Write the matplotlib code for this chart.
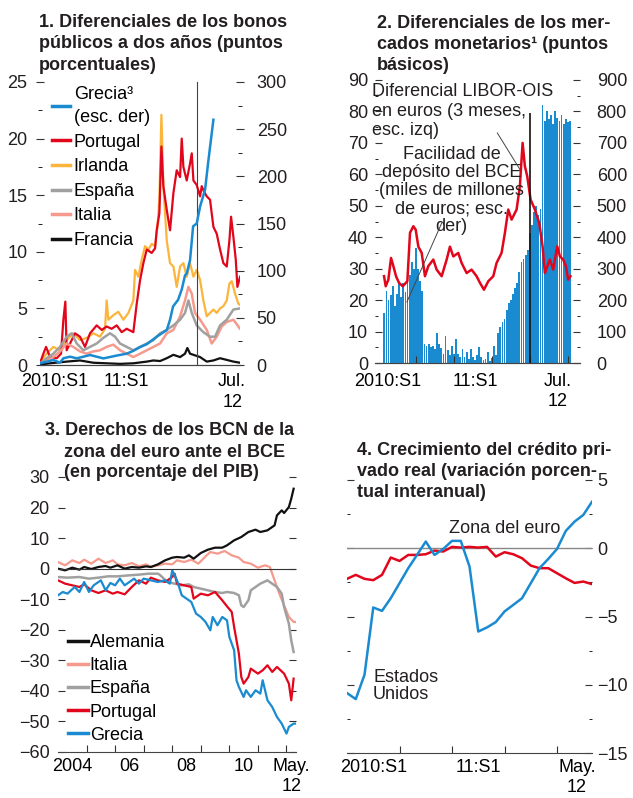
import numpy as np
import matplotlib
matplotlib.use('Agg')
import matplotlib.pyplot as plt
from matplotlib.lines import Line2D
from matplotlib.ticker import MultipleLocator

plt.rcParams['font.family'] = ['Liberation Sans', 'DejaVu Sans']
plt.rcParams['font.size'] = 13

RED = '#E2061C'
BLUE = '#1A8BD0'
ORANGE = '#FBB53C'
GREY = '#A0A0A0'
SALMON = '#F59A8C'
BLACK = '#111111'
INK = '#231F20'

# ---- panel 1: two-year bond spreads (time in years after Jan 2010)
pt_t = [0.0, .043, .077, .128, .213, .268, .298, .323, .340, .383, .446, .510, .574, .638, .723, .787,
        .850, .914, .978, 1.042, 1.105, 1.190, 1.233, 1.276, 1.318, 1.361, 1.424, 1.467, 1.488, 1.522,
        1.548, 1.573, 1.616, 1.658, 1.701, 1.743, 1.786, 1.807, 1.828, 1.871, 1.913, 1.935, 1.956, 1.998,
        2.041, 2.062, 2.092, 2.126, 2.168, 2.211, 2.253, 2.296, 2.338, 2.381, 2.415, 2.436, 2.466, 2.496,
        2.517, 2.551]
pt_v = [0.15, 1.0, 1.6, 0.7, 0.6, 1.0, 4.0, 5.6, 1.3, 1.9, 2.8, 2.5, 1.6, 2.8, 3.5, 3.1, 3.4, 3.2, 3.5,
        2.9, 3.2, 2.9, 5.4, 7.5, 9.0, 10.2, 9.9, 10.3, 11.9, 13.4, 19.3, 15.8, 13.7, 11.9, 15.2, 17.2,
        16.6, 20.0, 17.5, 16.3, 17.8, 18.7, 16.3, 15.9, 14.9, 15.8, 15.3, 14.9, 14.6, 12.2, 11.6, 10.2,
        9.0, 8.7, 11.0, 13.1, 11.3, 9.3, 6.9, 7.8]
ie_t = [0.0, .085, .170, .255, .340, .425, .510, .595, .680, .765, .829, .850, .872, .935, .999, 1.063,
        1.127, 1.190, 1.212, 1.254, 1.297, 1.339, 1.382, 1.424, 1.467, 1.497, 1.522, 1.548, 1.573, 1.616,
        1.658, 1.701, 1.743, 1.786, 1.828, 1.871, 1.913, 1.956, 1.998, 2.041, 2.083, 2.126, 2.168, 2.211,
        2.253, 2.296, 2.338, 2.381, 2.415, 2.445, 2.487, 2.530, 2.551]
ie_v = [0.3, 1.0, 1.6, 1.3, 2.2, 2.8, 2.2, 2.4, 2.8, 2.5, 3.2, 5.7, 4.0, 4.4, 4.7, 4.0, 4.6, 5.7, 8.4,
        7.8, 9.3, 10.5, 10.2, 10.7, 10.5, 12.2, 14.6, 22.1, 15.8, 11.0, 9.0, 8.7, 6.9, 8.7, 9.0, 7.8, 9.0,
        7.8, 8.4, 7.5, 5.7, 4.3, 4.6, 4.9, 4.6, 5.0, 5.2, 5.7, 7.2, 7.4, 6.3, 5.4, 5.3]
es_t = [0.0, .085, .170, .255, .340, .404, .468, .553, .638, .723, .808, .893, .957, 1.020, 1.105, 1.190,
        1.276, 1.361, 1.446, 1.531, 1.616, 1.701, 1.786, 1.849, 1.892, 1.935, 1.998, 2.083, 2.168, 2.232,
        2.296, 2.381, 2.466, 2.551]
es_v = [0.15, 0.6, 1.0, 1.6, 2.5, 2.8, 1.9, 1.3, 1.6, 1.9, 2.4, 2.8, 2.5, 1.9, 1.6, 1.3, 1.6, 1.9, 2.2,
        2.8, 3.1, 3.5, 4.0, 4.6, 5.7, 4.6, 3.5, 2.9, 2.5, 2.5, 3.5, 4.0, 4.9, 5.0]
it_t = [0.0, .085, .170, .255, .340, .425, .510, .595, .680, .765, .850, .935, 1.020, 1.105, 1.190, 1.276,
        1.361, 1.446, 1.531, 1.616, 1.701, 1.786, 1.849, 1.892, 1.935, 1.977, 2.041, 2.126, 2.189, 2.253,
        2.317, 2.381, 2.466, 2.551]
it_v = [0.1, 0.4, 0.7, 1.2, 1.9, 1.6, 1.2, 1.0, 1.2, 1.3, 1.6, 1.8, 1.3, 1.0, 0.7, 1.0, 1.3, 1.6, 1.9,
        2.8, 3.1, 4.3, 5.7, 6.9, 6.3, 4.6, 4.0, 3.1, 1.9, 2.5, 3.4, 3.8, 4.0, 3.2]
fr_t = [0.0, .128, .340, .510, .680, .850, 1.020, 1.190, 1.361, 1.446, 1.531, 1.616, 1.701, 1.786, 1.849,
        1.879, 1.913, 1.956, 2.041, 2.126, 2.211, 2.296, 2.381, 2.466, 2.551]
fr_v = [0.05, 0.15, 0.3, 0.4, 0.2, 0.15, 0.1, 0.15, 0.3, 0.4, 0.35, 0.6, 0.9, 0.7, 1.0, 1.5, 1.0, 0.9,
        0.7, 0.3, 0.4, 0.6, 0.45, 0.3, 0.2]
gr_t = [0.0, .085, .170, .255, .298, .383, .468, .553, .638, .723, .808, .893, .978, 1.105, 1.190, 1.276,
        1.361, 1.488, 1.616, 1.658, 1.696, 1.760, 1.807, 1.849, 1.871, 1.913, 1.952, 1.998, 2.041, 2.105,
        2.143, 2.168, 2.211]
gr_v = [1.8, 3.5, 5.3, 2.5, 7.1, 8.8, 7.1, 8.8, 10.6, 8.8, 7.0, 8.5, 10.0, 12.0, 15.0, 19.0, 22.0, 30.0,
        37.0, 48.0, 62.0, 69.0, 80.0, 95.0, 97.0, 111.0, 147.0, 150.0, 168.0, 186.0, 214.0, 231.0, 260.0]

# ---- panel 2: money market spreads
deposit_start = 2010 + 1 / 12   # first bar, Feb 2010, three bars per month
deposit = [160, 230, 200, 215, 245, 180, 220, 250, 210, 255, 225, 285, 280, 320, 300, 365, 300, 260,
           230, 60, 55, 60, 50, 55, 45, 95, 60, 48, 30, 85, 40, 25, 55, 28, 75, 30, 20, 45, 18, 35, 12,
           45, 18, 8, 25, 50, 20, 10, 12, 35, 5, 15, 55, 25, 95, 115, 130, 140, 170, 190, 200, 220, 240,
           255, 290, 320, 330, 345, 360, 415, 440, 480, 500, 470, 490, 820, 770, 800, 775, 790, 760, 800,
           780, 770, 790, 760, 775, 765, 770]
libor_t = [2010.079, 2010.101, 2010.136, 2010.171, 2010.202, 2010.237, 2010.276, 2010.325, 2010.386,
           2010.421, 2010.465, 2010.496, 2010.531, 2010.575, 2010.618, 2010.662, 2010.728, 2010.772,
           2010.838, 2010.904, 2010.947, 2010.991, 2011.057, 2011.101, 2011.167, 2011.232, 2011.298,
           2011.342, 2011.395, 2011.452, 2011.518, 2011.561, 2011.627, 2011.671, 2011.715, 2011.759,
           2011.825, 2011.868, 2011.904, 2011.934, 2011.965, 2012.009, 2012.066, 2012.123, 2012.167,
           2012.197, 2012.263, 2012.307, 2012.360, 2012.395, 2012.439, 2012.474, 2012.504, 2012.535]
libor_v = [27.6, 24.4, 26.5, 33.4, 30.8, 27.6, 25.5, 24.4, 26.0, 41.4, 43.5, 42.4, 37.0, 35.0, 27.6, 30.8,
           32.9, 29.7, 27.6, 32.9, 37.0, 33.9, 35.0, 31.8, 28.6, 29.7, 27.6, 25.5, 23.3, 26.0, 27.6, 31.8,
           35.0, 41.4, 48.8, 45.6, 48.8, 56.2, 70.0, 62.6, 59.4, 52.0, 48.8, 44.5, 37.1, 28.6, 32.9, 29.7,
           37.1, 33.9, 32.9, 30.8, 26.5, 27.6]

# ---- panel 3: NCB claims on the ECB (months after Jan 2004)
de_m = [0, 3, 6, 9, 11, 14, 17, 20, 22, 25, 28, 31, 34, 37, 39, 42, 45, 48, 50, 53, 55, 57, 60, 63, 66,
        69, 71, 74, 77, 80, 83, 85, 88, 91, 92, 94, 95, 97, 98, 99]
de_v = [0, -0.55, 0.33, -0.33, 0.55, -0.11, 0.55, 0.87, 0.33, 1.09, 0, 0.55, 0.33, 0.76, 0.55, 1.42,
        2.73, 3.6, 3.82, 3.6, 4.36, 3.27, 5.13, 6.22, 6.87, 6.87, 7.63, 9.27, 10.36, 12.0, 12.76, 12.0,
        12.54, 14.18, 17.45, 19.08, 18.21, 20.17, 22.9, 26.17]
it3_m = [0, 3, 6, 9, 11, 14, 17, 20, 23, 25, 28, 31, 34, 37, 39, 42, 45, 48, 50, 53, 56, 59, 62, 64, 67,
         70, 73, 76, 78, 81, 84, 87, 89, 91, 93, 95, 97, 99, 100]
it3_v = [2.18, 1.09, 2.73, 1.85, 2.94, 1.64, 3.27, 1.85, 2.73, 1.42, 1.09, 1.85, 0.76, 1.42, 0.55, 1.09,
         1.64, 1.42, 2.73, 2.18, 2.94, 1.64, 4.03, 5.45, 4.91, 5.78, 4.36, 3.6, 2.18, 1.64, 0.33, 1.09,
         0.55, -3.82, -8.18, -12.0, -15.8, -17.45, -17.45]
es3_m = [0, 4, 9, 13, 17, 21, 25, 30, 34, 38, 42, 43, 46, 49, 52, 55, 57, 60, 63, 66, 69, 71, 74, 76, 77,
         78, 80, 81, 83, 85, 88, 90, 92, 94, 95, 97, 98, 99]
es3_v = [-2.73, -2.94, -2.73, -3.27, -2.94, -2.51, -2.51, -2.18, -1.96, -1.64, -1.64, -2.18, -4.36, -4.91,
         -5.45, -5.13, -6.0, -6.54, -7.09, -7.63, -7.96, -7.63, -7.96, -8.72, -12.0, -12.54, -10.36, -7.09,
         -6.0, -4.91, -3.82, -4.91, -6.0, -8.18, -12.54, -18.0, -23.45, -27.26]
pt3_m = [0, 3, 6, 9, 11, 14, 17, 20, 23, 25, 28, 31, 34, 37, 39, 42, 45, 48, 49, 50, 53, 56, 57, 60, 63,
         66, 69, 71, 73, 74, 76, 77, 78, 80, 81, 84, 86, 88, 90, 92, 95, 97, 98, 99]
pt3_v = [-3.82, -4.91, -5.45, -6.0, -5.13, -7.09, -7.96, -7.09, -8.18, -7.63, -8.4, -6.0, -3.82, -4.91,
         -2.94, -3.82, -4.36, -2.73, -1.64, -4.91, -5.45, -6.0, -9.81, -8.18, -8.72, -7.63, -10.36, -12.32,
         -14.18, -19.08, -27.8, -35.44, -37.62, -35.44, -32.72, -34.35, -33.26, -31.62, -33.8, -32.17,
         -34.35, -37.62, -43.08, -35.99]
gr3_m = [0, 2, 4, 7, 9, 11, 13, 15, 18, 20, 22, 24, 26, 28, 30, 32, 34, 36, 39, 42, 45, 47, 48, 50, 52,
         54, 56, 58, 60, 62, 64, 65, 67, 69, 71, 72, 74, 75, 76, 78, 79, 81, 83, 85, 86, 88, 90, 92, 94,
         96, 97, 99, 100]
gr3_v = [-8.72, -7.63, -8.18, -6.0, -7.63, -4.36, -7.63, -5.45, -3.82, -7.09, -4.69, -5.45, -3.27, -5.45,
         -4.36, -3.27, -4.91, -3.27, -3.82, -4.36, -3.82, -4.91, -0.55, -3.82, -8.72, -9.81, -10.9,
         -14.72, -15.81, -17.45, -20.17, -15.81, -18.54, -15.81, -16.9, -22.36, -26.72, -36.53, -38.71,
         -41.98, -39.8, -41.98, -39.8, -40.89, -36.53, -43.08, -45.26, -48.53, -50.71, -53.98, -51.8,
         -50.71, -50.71]

# ---- panel 4: real private credit growth, monthly Jan 2010 - May 2012
ea_v = [-2.24, -1.95, -2.24, -2.34, -1.95, -0.68, -0.93, -0.49, -0.49, -0.44, -0.17, -0.24, 0.1, 0.05,
        0.1, 0.05, 0.1, -0.61, -0.29, -0.44, -0.73, -1.27, -1.46, -1.46, -1.83, -2.2, -2.54, -2.44, -2.63]
us_v = [-10.61, -11.05, -9.27, -4.34, -4.59, -3.66, -2.56, -1.46, -0.49, 0.49, -0.49, -0.05, 0.54, 0.54,
        -1.34, -6.1, -5.8, -5.41, -4.63, -4.15, -3.66, -2.56, -1.46, -0.78, -0.05, 1.27, 1.95, 2.44, 3.41]

W, H = 633, 798
fig = plt.figure(figsize=(W / 100, H / 100), dpi=100)


def box(l, t, r, b):
    return [l / W, 1 - b / H, (r - l) / W, (b - t) / H]


def title(x, ys, lines, indent=None):
    for i, (y, s) in enumerate(zip(ys, lines)):
        xx = x if (indent is None or i == 0) else indent
        fig.text(xx / W, 1 - y / H, s, fontsize=13, fontweight='bold', color=INK, va='baseline')


def clean(ax):
    for s in ['top', 'left', 'right']:
        ax.spines[s].set_visible(False)
    ax.spines['bottom'].set_color('#444444')
    ax.tick_params(colors='#333333', labelcolor=INK, labelsize=13)


def xlabels(ax, pos, labs, pad=4):
    ax.set_xticks(pos, labels=labs, minor=True)
    ax.tick_params(axis='x', which='minor', length=0, pad=pad)
    for lab in ax.get_xticklabels(minor=True):
        lab.set_linespacing(1.25)


# ================= panel 1
ax1 = fig.add_axes(box(40, 82, 240, 365))
ax1r = ax1.twinx()
yr1 = 2010.0
ax1.plot(yr1 + np.array(ie_t), ie_v, color=ORANGE, lw=1.6)
ax1.plot(yr1 + np.array(pt_t), pt_v, color=RED, lw=1.6)
ax1.plot(yr1 + np.array(it_t), it_v, color=SALMON, lw=1.8)
ax1.plot(yr1 + np.array(es_t), es_v, color=GREY, lw=1.8)
ax1.plot(yr1 + np.array(fr_t), fr_v, color=BLACK, lw=1.6)
ax1r.plot(yr1 + np.array(gr_t), gr_v, color=BLUE, lw=1.8)
ax1.axvline(2012.0, color='#444444', lw=0.8)
ax1.set_xlim(2010.0, 2012.55)
ax1.set_ylim(0, 25)
ax1r.set_ylim(0, 300)
for a in (ax1, ax1r):
    clean(a)
ax1.yaxis.set_major_locator(MultipleLocator(5))
ax1.yaxis.set_minor_locator(MultipleLocator(2.5))
ax1r.yaxis.set_major_locator(MultipleLocator(50))
ax1r.yaxis.set_minor_locator(MultipleLocator(25))
ax1.tick_params(axis='y', which='major', direction='inout', length=6, pad=6)
ax1.tick_params(axis='y', which='minor', direction='inout', length=2.5)
ax1r.tick_params(axis='y', which='major', direction='inout', length=6, pad=9)
ax1r.tick_params(axis='y', which='minor', direction='inout', length=2.5)
ax1.set_xticks([])
xlabels(ax1, [2010.19, 2011.10, 2012.45], ['2010:S1', '11:S1', 'Jul.\n12'], pad=6)
h1 = [Line2D([], [], color=c, lw=2.5) for c in [BLUE, RED, ORANGE, GREY, SALMON, BLACK]]
leg1 = ax1r.legend(h1, ['Grecia³\n(esc. der)', 'Portugal', 'Irlanda', 'España', 'Italia', 'Francia'],
                   loc='upper left', bbox_to_anchor=(0.06, 0.985), frameon=False, handlelength=1.0,
                   handletextpad=0.2, labelspacing=0.42, borderpad=0, borderaxespad=0, fontsize=13)
leg1.get_texts()[0].set_linespacing(1.45)
title(39, [27, 48.5, 70], ['1. Diferenciales de los bonos', 'públicos a dos años (puntos',
                           'porcentuales)'])

# ================= panel 2
ax2 = fig.add_axes(box(375, 80, 580, 363))
ax2r = ax2.twinx()
dep_t = deposit_start + np.arange(len(deposit)) / 36
ax2r.bar(dep_t, deposit, width=0.85 / 36, color=BLUE, linewidth=0)
ax2.plot(libor_t, libor_v, color=RED, lw=1.8)
ax2.vlines(2012.0, 0, 79.5, color='#111111', lw=1.2)
ax2.set_zorder(ax2r.get_zorder() + 1)
ax2.patch.set_visible(False)
ax2.set_xlim(2009.96, 2012.66)
ax2.set_ylim(0, 90)
ax2r.set_ylim(0, 900)
for a in (ax2, ax2r):
    clean(a)
ax2.yaxis.set_major_locator(MultipleLocator(10))
ax2.yaxis.set_minor_locator(MultipleLocator(5))
ax2r.yaxis.set_major_locator(MultipleLocator(100))
ax2r.yaxis.set_minor_locator(MultipleLocator(50))
ax2.tick_params(axis='y', which='major', direction='in', length=5, pad=5)
ax2.tick_params(axis='y', which='minor', direction='in', length=2.5)
ax2r.tick_params(axis='y', which='major', direction='in', length=5, pad=12)
ax2r.tick_params(axis='y', which='minor', direction='in', length=2.5)
ax2.set_xticks([2010.5, 2011.0, 2011.5, 2012.0, 2012.5], labels=[''] * 5)
ax2.tick_params(axis='x', which='major', direction='in', length=5)
xlabels(ax2, [2010.13, 2011.28, 2012.36], ['2010:S1', '11:S1', 'Jul.\n12'], pad=7)
ax2.text(2009.92, 80.1, 'Diferencial LIBOR-OIS\nen euros (3 meses,\nesc. izq)', ha='left',
         va='center', fontsize=13, color=INK, linespacing=1.2)
ax2.text(2010.97, 54.8, 'Facilidad de\ndepósito del BCE\n(miles de millones\nde euros; esc.\nder)',
         ha='center', va='center', multialignment='center', fontsize=13, color=INK, linespacing=1.08)
ax2.annotate('', xy=(2011.87, 61.5), xytext=(2011.57, 73.2),
             arrowprops=dict(arrowstyle='-', color='#444444', lw=0.7, shrinkA=0, shrinkB=0))
ax2.annotate('', xy=(2010.38, 19.4), xytext=(2010.84, 44.6),
             arrowprops=dict(arrowstyle='-', color='#444444', lw=0.7, shrinkA=0, shrinkB=0))
title(377, [28, 49, 70], ['2. Diferenciales de los mer-', 'cados monetarios¹ (puntos', 'básicos)'])

# ================= panel 3
ax3 = fig.add_axes(box(58, 477, 296, 752))
m0 = 2004.0
ax3.plot(m0 + np.array(it3_m) / 12, it3_v, color=SALMON, lw=1.6)
ax3.plot(m0 + np.array(es3_m) / 12, es3_v, color=GREY, lw=1.8)
ax3.plot(m0 + np.array(pt3_m) / 12, pt3_v, color=RED, lw=1.6)
ax3.plot(m0 + np.array(gr3_m) / 12, gr3_v, color=BLUE, lw=1.6)
ax3.plot(m0 + np.array(de_m) / 12, de_v, color=BLACK, lw=1.6)
ax3.axhline(0, color='#333333', lw=0.8)
ax3.set_xlim(2004.0, 2012.333)
ax3.set_ylim(-60, 30)
clean(ax3)
ax3.yaxis.set_major_locator(MultipleLocator(10))
ax3.tick_params(axis='y', which='major', direction='in', length=5, pad=6, left=True, right=True)
ax3.set_xticks(np.arange(2005, 2013), labels=[''] * 8)
ax3.tick_params(axis='x', which='major', direction='in', length=5)
xlabels(ax3, [2004.5, 2006.5, 2008.5, 2010.5, 2012.18], ['2004', '06', '08', '10', 'May.\n12'])
h3 = [Line2D([], [], color=c, lw=2.5) for c in [BLACK, SALMON, GREY, RED, BLUE]]
ax3.legend(h3, ['Alemania', 'Italia', 'España', 'Portugal', 'Grecia'], loc='lower left',
           bbox_to_anchor=(0.042, 0.03), frameon=False, handlelength=1.1, handletextpad=0.1,
           labelspacing=0.34, borderpad=0, borderaxespad=0, fontsize=13)
title(45, [435, 457, 477], ['3. Derechos de los BCN de la', 'zona del euro ante el BCE',
                            '(en porcentaje del PIB)'], indent=64)

# ================= panel 4
ax4 = fig.add_axes(box(347, 480, 592, 753))
mm = 2010.0 + np.arange(len(ea_v)) / 12
ax4.axhline(0, color='#888888', lw=1.0)
ax4.plot(mm, ea_v, color=RED, lw=1.8)
ax4.plot(mm, us_v, color=BLUE, lw=1.8)
ax4.set_xlim(2010.0, 2012.333)
ax4.set_ylim(-15, 5)
clean(ax4)
ax4.yaxis.set_major_locator(MultipleLocator(5))
ax4.yaxis.set_minor_locator(MultipleLocator(2.5))
ax4.tick_params(axis='y', which='both', direction='in', left=True, right=True, labelleft=False,
                labelright=True, pad=4)
ax4.tick_params(axis='y', which='major', length=5)
ax4.tick_params(axis='y', which='minor', length=2.5)
ax4.set_xticks([2010.5, 2011.0, 2011.5, 2012.0], labels=[''] * 4)
ax4.tick_params(axis='x', which='major', direction='in', length=5)
xlabels(ax4, [2010.25, 2011.25, 2012.19], ['2010:S1', '11:S1', 'May.\n12'])
ax4.text(2011.505, 1.47, 'Zona del euro', ha='center', va='center', fontsize=13, color=INK)
ax4.text(2010.248, -10.1, 'Estados\nUnidos', ha='left', va='center', fontsize=13, color=INK,
         linespacing=0.95)
title(357, [455, 476, 497], ['4. Crecimiento del crédito pri-', 'vado real (variación porcen-',
                             'tual interanual)'])

fig.savefig('out.png', dpi=100, facecolor='white')
